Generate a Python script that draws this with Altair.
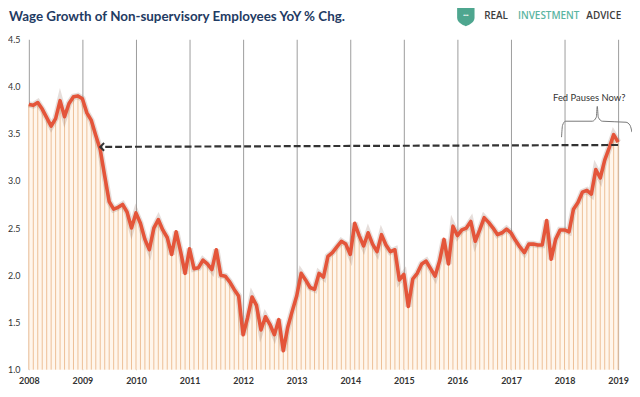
import altair as alt
import pandas as pd

# ---- data ----
start_year = 2008
wage_yoy = [
    # 2008
    3.81, 3.80, 3.83, 3.76, 3.67, 3.58, 3.66, 3.85, 3.68, 3.82, 3.89, 3.90,
    # 2009
    3.87, 3.72, 3.64, 3.48, 3.33, 3.05, 2.78, 2.70, 2.72, 2.75, 2.67, 2.50,
    # 2010
    2.66, 2.55, 2.38, 2.27, 2.50, 2.59, 2.48, 2.40, 2.22, 2.46, 2.25, 2.02,
    # 2011
    2.28, 2.07, 2.08, 2.16, 2.12, 2.06, 2.27, 2.00, 1.99, 1.93, 1.85, 1.78,
    # 2012
    1.37, 1.55, 1.77, 1.68, 1.42, 1.56, 1.48, 1.37, 1.53, 1.20, 1.45, 1.62,
    # 2013
    1.78, 2.02, 1.95, 1.87, 1.85, 2.02, 1.98, 2.20, 2.24, 2.30, 2.36, 2.33,
    # 2014
    2.22, 2.55, 2.42, 2.31, 2.45, 2.33, 2.25, 2.43, 2.32, 2.25, 2.27, 1.95,
    # 2015
    2.01, 1.67, 1.96, 2.02, 2.12, 2.15, 2.07, 1.99, 2.15, 2.38, 2.12, 2.52,
    # 2016
    2.42, 2.48, 2.50, 2.57, 2.36, 2.48, 2.61, 2.56, 2.50, 2.43, 2.45, 2.49,
    # 2017
    2.45, 2.37, 2.30, 2.24, 2.33, 2.33, 2.32, 2.32, 2.58, 2.17, 2.38, 2.48,
    # 2018
    2.48, 2.46, 2.70, 2.77, 2.88, 2.90, 2.86, 3.12, 3.03, 3.22, 3.35, 3.49,
    # 2019
    3.41,
]
year_ticks = list(range(2008, 2020))
y_ticks = [1.0, 1.5, 2.0, 2.5, 3.0, 3.5, 4.0, 4.5]

title_text = "Wage Growth of Non-supervisory Employees YoY % Chg."
annot_text = "Fed Pauses Now?"
logo_words = ["REAL", "INVESTMENT", "ADVICE"]

# dashed arrow endpoints (decimal year, value)
arrow_x = [2019.0, 2009.333]
arrow_y = [3.38, 3.36]

# curly bracket over 2018
brace_x = [2017.944, 2017.963, 2018.019, 2018.519, 2018.593, 2018.611,
           2018.630, 2018.704, 2019.148, 2019.222, 2019.259]
brace_y = [3.463, 3.589, 3.632, 3.632, 3.674, 3.789,
           3.674, 3.632, 3.621, 3.589, 3.516]

# ---- frames ----
df = pd.DataFrame({
    "t": [start_year + i / 12 for i in range(len(wage_yoy))],
    "v": wage_yoy,
})
arrow_df = pd.DataFrame({"t": arrow_x, "v": arrow_y, "o": [0, 1]})
brace_df = pd.DataFrame({"t": brace_x, "v": brace_y, "o": list(range(len(brace_x)))})
annot_df = pd.DataFrame({"t": [2018.46], "v": [3.88], "s": [annot_text]})

W, H = 594, 333
xs = alt.Scale(domain=[2008, 2019], nice=False, zero=False)
ys = alt.Scale(domain=[1.0, 4.5], nice=False, zero=False)

x_axis = alt.Axis(values=year_ticks, format="d", grid=True, gridColor="#9c9c9c",
                  gridWidth=1, domain=False, ticks=False, labelFontSize=9,
                  labelColor="#333333", labelFont="Lato", labelPadding=7,
                  title=None, labelFontWeight="bold", labelFlush=False,
                  labelOverlap=False)
y_axis = alt.Axis(values=y_ticks, format=".1f", grid=False, domain=False,
                  ticks=False, labelFontSize=9, labelColor="#333333",
                  labelFont="Lato", labelPadding=9, title=None,
                  labelFlush=False, labelOverlap=False)

base = alt.Chart(df)

area = base.mark_area(color="#fff6ec").encode(
    x=alt.X("t:Q", scale=xs, axis=x_axis),
    y=alt.Y("v:Q", scale=ys, axis=y_axis),
    y2=alt.datum(1.0),
)
bars = base.mark_rule(color="#edbf97", strokeWidth=1).encode(
    x=alt.X("t:Q", scale=xs),
    y=alt.Y("v:Q", scale=ys),
    y2=alt.datum(1.0),
)
shadow = base.mark_line(color="#9a7a70", strokeWidth=6.5, opacity=0.25).encode(
    x=alt.X("t:Q", scale=xs), y=alt.Y("v:Q", scale=ys))
line = base.mark_line(color="#e4553a", strokeWidth=3.6, strokeJoin="round").encode(
    x=alt.X("t:Q", scale=xs), y=alt.Y("v:Q", scale=ys))

arrow = alt.Chart(arrow_df).mark_line(color="#333333", strokeWidth=2.2,
                                      strokeDash=[7, 3]).encode(
    x=alt.X("t:Q", scale=xs), y=alt.Y("v:Q", scale=ys), order="o:Q")
arrow_head = alt.Chart(arrow_df.iloc[[1]]).mark_point(
    shape="M 1 -1 L 0 0 L 1 1", size=60, filled=False, color="#333333",
    strokeWidth=2, opacity=1).encode(
    x=alt.X("t:Q", scale=xs), y=alt.Y("v:Q", scale=ys))

brace = alt.Chart(brace_df).mark_line(color="#777777", strokeWidth=1,
                                      interpolate="monotone").encode(
    x=alt.X("t:Q", scale=xs), y=alt.Y("v:Q", scale=ys), order="o:Q")
annot = alt.Chart(annot_df).mark_text(font="Lato", fontSize=9.5, color="#333333",
                                      align="center", baseline="middle").encode(
    x=alt.X("t:Q", scale=xs), y=alt.Y("v:Q", scale=ys), text="s:N")

title = alt.Chart(pd.DataFrame({"s": [title_text]})).mark_text(
    font="Lato", fontSize=13.5, fontWeight="bold", color="#1f3b63",
    align="left", baseline="alphabetic").encode(
    x=alt.value(-20), y=alt.value(-18), text="s:N")

shield = alt.Chart(pd.DataFrame({"a": [0]})).mark_point(
    shape="M -0.9 -1 L 0.9 -1 L 0.9 0.1 C 0.9 0.6 0.4 0.85 0 1 C -0.4 0.85 -0.9 0.6 -0.9 0.1 Z",
    size=380, filled=True, color="#4ea68f", opacity=1).encode(
    x=alt.value(440.5), y=alt.value(-23))
shield_dots = alt.Chart(pd.DataFrame({"s": ["•••"]})).mark_text(
    fontSize=5, color="white", align="center", baseline="middle").encode(
    x=alt.value(440.5), y=alt.value(-24), text="s:N")

logo_x = [459, 493, 562]
logo_col = ["#3d3d3d", "#5bb5a2", "#3d3d3d"]
logo_layers = []
for w, lx, lc in zip(logo_words, logo_x, logo_col):
    logo_layers.append(
        alt.Chart(pd.DataFrame({"s": [w]})).mark_text(
            font="Open Sans", fontSize=10, fontWeight=600, color=lc,
            align="left", baseline="middle").encode(
            x=alt.value(lx), y=alt.value(-23), text="s:N"))

chart = alt.layer(
    area, bars, shadow, line, arrow, arrow_head, brace, annot,
    title, shield, shield_dots, *logo_layers,
).properties(
    width=W, height=H,
    autosize=alt.AutoSizeParams(type="none"),
    padding={"left": 21, "top": 30, "right": 14, "bottom": 18},
    background="white",
).configure_view(stroke=None)

chart.save("out.html", embed_options={"renderer": "svg", "actions": False})
